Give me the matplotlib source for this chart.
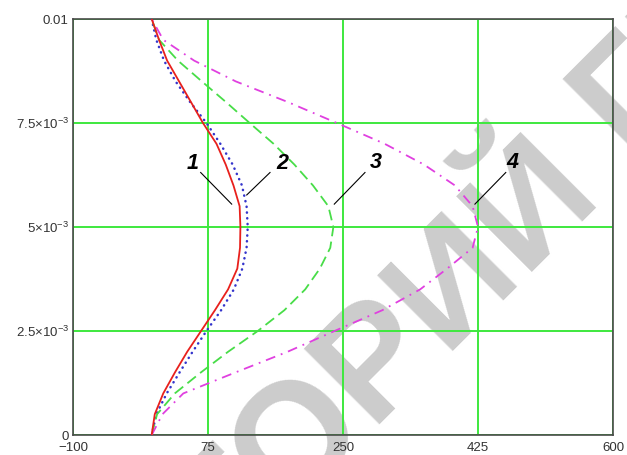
import matplotlib
matplotlib.use('Agg')
import matplotlib.pyplot as plt

plt.rcParams['font.family'] = ['Liberation Sans', 'DejaVu Sans']
plt.rcParams['mathtext.fontset'] = 'custom'
plt.rcParams['mathtext.rm'] = 'Liberation Sans'
plt.rcParams['mathtext.it'] = 'Liberation Sans:italic'

# data
y = [0, 0.0005, 0.001, 0.0015, 0.002, 0.0025, 0.003, 0.0035, 0.004, 0.0045, 0.005,
     0.0055, 0.006, 0.0065, 0.007, 0.0075, 0.008, 0.0085, 0.009, 0.0095, 0.01]
x1 = [2, 6, 17, 32, 48, 66, 84, 101, 113, 116.5, 117,
      116, 108, 98, 86, 68.5, 53, 37.5, 22, 11.5, 2]
x2 = [2, 8, 21.5, 38, 55, 73, 92, 108.5, 119.5, 125, 126.5,
      125, 119, 107, 91, 73, 52, 33, 18, 8, 2]
x3 = [2, 9, 32, 65.5, 101, 139.5, 174, 201, 220, 233.5, 237.5,
      231, 211, 187, 160, 129, 98.5, 67, 36, 11.5, 2]
x4 = [2, 16, 43, 110, 178, 239, 301, 350, 385, 418, 425,
      418, 395, 355, 304, 242, 179, 111, 57, 17, 2]

xticks = [-100, 75, 250, 425, 600]
yticks = [0, 0.0025, 0.005, 0.0075, 0.01]
ylabels = ['0', r'$2.5{\times}10^{-3}$', r'$5{\times}10^{-3}$', r'$7.5{\times}10^{-3}$', '0.01']
xlabels = ['\u2212100', '75', '250', '425', '600']

fig = plt.figure(figsize=(6.27, 4.55), dpi=100)
fig.patch.set_facecolor('white')
ax = fig.add_axes([73/627, 20/455, 540/627, 416/455])
ax.patch.set_alpha(0)

# watermark behind the plot
wm = dict(rotation=45, rotation_mode='anchor', va='baseline', fontsize=112,
          weight='bold', color='#cccccc', zorder=-1)
fig.text(602/627, 1 - 192/455, 'РЕПОЗИТОРИЙ', ha='right', **wm)
fig.text(632/627, 1 - 162/455, 'ГГУ ИМЕНИ Ф. СКОРИНЫ', ha='left', **wm)

ax.plot(x1, y, color='#e8201c', lw=1.3, zorder=5)
ax.plot(x2, y, color='#3434cc', lw=1.8, linestyle=(0, (0.1, 2.2)),
        dash_capstyle='round', zorder=4)
ax.plot(x3, y, color='#48dd48', lw=1.3, linestyle=(0, (6, 3)), zorder=4)
ax.plot(x4, y, color='#e040e0', lw=1.3, linestyle=(0, (5.5, 3.3, 1, 3.3)), zorder=4)

# curve numbers with leader lines
nums = ['1', '2', '3', '4']
num_xy = [(55, 0.00653), (171, 0.00653), (293, 0.00655), (470, 0.00656)]
lead_from = [(65.5, 0.00631), (155.4, 0.00631), (278.5, 0.00631), (461, 0.00631)]
lead_to = [(105.7, 0.00555), (125.2, 0.00577), (238.7, 0.00555), (421, 0.00555)]
for n, p, a, b in zip(nums, num_xy, lead_from, lead_to):
    ax.text(p[0], p[1], n, fontsize=15.5, weight='bold', style='italic',
            ha='center', va='center', zorder=6)
    ax.plot([a[0], b[0]], [a[1], b[1]], color='black', lw=0.8, zorder=6)

ax.set_xlim(-100, 600)
ax.set_ylim(0, 0.01)
ax.set_xticks(xticks)
ax.set_xticklabels(xlabels)
ax.set_yticks(yticks)
ax.set_yticklabels(ylabels)
ax.tick_params(length=0, labelsize=9.5, labelcolor='#333333')
ax.tick_params(axis='x', pad=5)
ax.tick_params(axis='y', pad=3)
ax.grid(True, color='#3ee83e', lw=1.4, zorder=1)
for s in ax.spines.values():
    s.set_color('#4a4a4a')
    s.set_linewidth(1.2)

fig.savefig('out.png', dpi=100)
